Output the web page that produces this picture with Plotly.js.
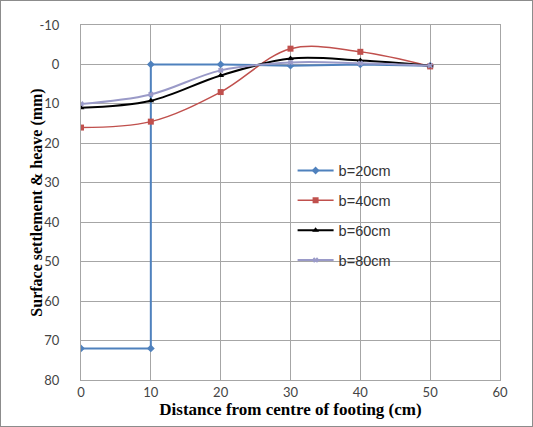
<!DOCTYPE html>
<html><head><meta charset="utf-8">
<script src="https://cdn.plot.ly/plotly-3.0.1.min.js"></script>
<style>
html,body{margin:0;padding:0;background:#fff;}
#wrap{width:533px;height:427px;box-sizing:border-box;border:1px solid #8c8c8c;overflow:hidden;}
#chart{width:531px;height:425px;}
</style></head>
<body><div id="wrap"><div id="chart"></div></div>
<script>
const names = ["b=20cm","b=40cm","b=60cm","b=80cm"];
const x20 = [0,10,10,20,30,40,50];
const y20 = [72,72,0,0,0.3,0,0.3];
const xs = [0,10,20,30,40,50];
const y40 = [16,14.5,7,-4,-3.2,0.5];
const y60 = [11,9.2,2.8,-1.5,-1,0.3];
const y80 = [10,7.6,1.5,-0.5,-0.3,0.3];
const xTicks = [0,10,20,30,40,50,60];
const yTicks = [-10,0,10,20,30,40,50,60,70,80];

const traces = [
 {x:x20,y:y20,name:names[0],legendgroup:'a',mode:'lines+markers',line:{color:'#4f81bd',width:2,shape:'linear'},marker:{symbol:'diamond',size:6,color:'#4f81bd'}},
 {x:xs,y:y40,name:names[1],legendgroup:'b',mode:'lines+markers',line:{color:'#c0504d',width:1.5,shape:'spline'},marker:{symbol:'square',size:6,color:'#c0504d'}},
 {x:xs,y:y60,name:names[2],legendgroup:'c',mode:'lines+markers',line:{color:'#000000',width:2,shape:'spline'},marker:{symbol:'triangle-up',size:6,color:'#000000'}},
 {x:xs,y:y80,name:names[3],legendgroup:'d',mode:'lines+markers',line:{color:'#9a9ac8',width:2,shape:'spline'},marker:{symbol:'x',size:5,color:'#9a9ac8'}}
];
const layout = {
 width:531,height:425,
 margin:{l:80,r:32,t:24,b:46},
 paper_bgcolor:'#fff',plot_bgcolor:'#fff',
 showlegend:true,
 legend:{x:0.505,y:0.635,xanchor:'left',yanchor:'top',bgcolor:'rgba(0,0,0,0)',tracegroupgap:8,itemwidth:36,font:{family:'Liberation Sans, Arial',size:14.5,color:'#333'}},
 xaxis:{range:[0,60],tickvals:xTicks,ticktext:xTicks.map(String),showgrid:true,gridcolor:'#a6a6a6',gridwidth:1,zeroline:false,showline:true,linecolor:'#a6a6a6',mirror:true,ticks:'',
   tickfont:{family:'Lato, Liberation Sans',size:13,color:'#444'},
   title:{text:'Distance from centre of footing (cm)',font:{family:'Liberation Serif, DejaVu Serif',size:17,color:'#000',weight:'bold'},standoff:1}},
 yaxis:{range:[80,-10],tickvals:yTicks,ticktext:yTicks.map(String),showgrid:true,gridcolor:'#a6a6a6',gridwidth:1,zeroline:false,showline:true,linecolor:'#a6a6a6',mirror:true,ticks:'',ticklabelstandoff:18,
   tickfont:{family:'Lato, Liberation Sans',size:13,color:'#444'}},
 annotations:[{text:'<b>Surface settlement & heave (mm)</b>',xref:'paper',yref:'paper',x:-0.107,y:0.5,xanchor:'center',yanchor:'middle',textangle:-90,showarrow:false,
   font:{family:'Liberation Serif, DejaVu Serif',size:16,color:'#000'}}]
};
Plotly.newPlot('chart',traces,layout,{displayModeBar:false,staticPlot:true});
</script></body></html>
